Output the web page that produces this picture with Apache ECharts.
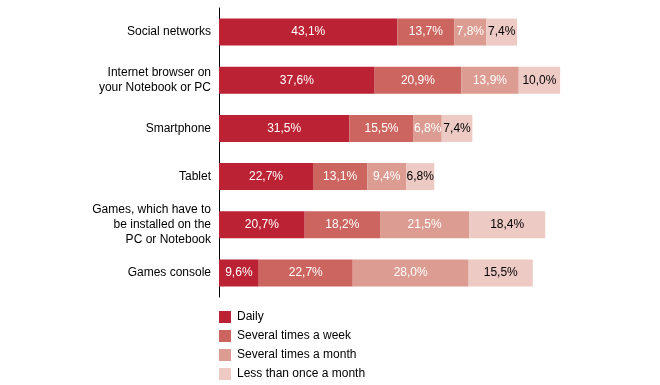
<!DOCTYPE html>
<html><head><meta charset="utf-8">
<script src="https://cdn.jsdelivr.net/npm/echarts@6/dist/echarts.min.js"></script>
<style>html,body{margin:0;padding:0;background:#fff}#c{width:660px;height:385px}</style>
</head><body><div id="c"></div>
<script>
const categories = ["Social networks","Internet browser on\nyour Notebook or PC","Smartphone","Tablet","Games, which have to\nbe installed on the\nPC or Notebook","Games console"];
const seriesNames = ["Daily","Several times a week","Several times a month","Less than once a month"];
const daily = [43.1,37.6,31.5,22.7,20.7,9.6];
const weekly = [13.7,20.9,15.5,13.1,18.2,22.7];
const monthly = [7.8,13.9,6.8,9.4,21.5,28.0];
const rarely = [7.4,10.0,7.4,6.8,18.4,15.5];
const colors = ["#bb2233","#cc655f","#dc9c92","#edcac4"];
const labelColors = ["#ffffff","#ffffff","#ffffff","#000000"];
const values = [daily, weekly, monthly, rarely];
const font = "'Liberation Sans', Arial, Helvetica, sans-serif";
const chart = echarts.init(document.getElementById('c'));
chart.setOption({
  animation:false,
  textStyle:{fontFamily:font},
  grid:{left:219,top:8,bottom:88,width:414,containLabel:false},
  legend:{orient:'vertical',left:219,top:311,height:80,padding:0,itemWidth:12,itemHeight:12,itemGap:7,icon:'rect',
    textStyle:{fontFamily:font,fontSize:12,color:'#000',padding:[0,0,0,1]},data:seriesNames},
  xAxis:{type:'value',min:0,max:100,show:false},
  yAxis:{type:'category',inverse:true,data:categories,
    axisLine:{lineStyle:{color:'#000',width:1}},
    axisTick:{inside:true,length:3,lineStyle:{color:'#000'}},
    axisLabel:{fontFamily:font,fontSize:12,color:'#000',margin:8,lineHeight:15,align:'right'}},
  series: seriesNames.map((n,i)=>({
    name:n,type:'bar',stack:'all',barWidth:27,data:values[i],
    itemStyle:{color:colors[i]},
    label:{show:true,position:'inside',fontFamily:font,fontSize:12,color:labelColors[i],
      formatter:p=>p.value.toFixed(1).replace('.',',')+'%'}
  }))
});
</script></body></html>
